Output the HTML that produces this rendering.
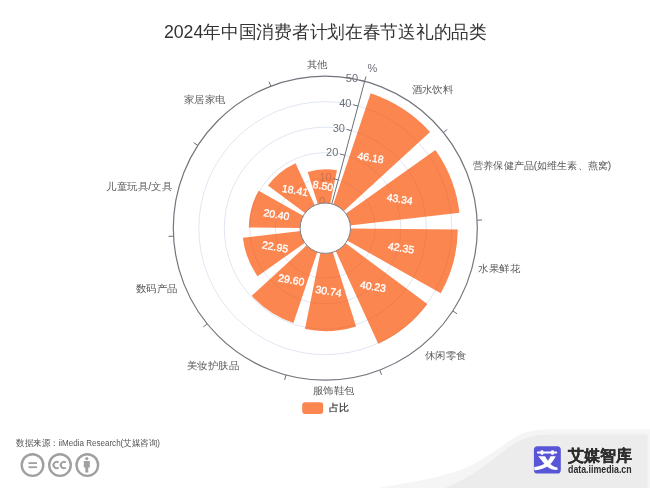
<!DOCTYPE html>
<html><head><meta charset="utf-8"><style>
html,body{margin:0;padding:0;background:#fff;}
body{width:650px;height:488px;overflow:hidden;position:relative;font-family:"Liberation Sans",sans-serif;}
svg{position:absolute;left:0;top:0;will-change:transform;}
text{font-family:"Liberation Sans",sans-serif;}
</style></head><body>
<svg width="650" height="488" viewBox="0 0 650 488">
<!-- footer panel -->
<path d="M378,488 C420,481 448,476 470,466 C494,454 506,441 520,434.5 C529,430.5 538,429.5 550,429.5 L650,429.5 L650,488 Z" fill="#f5f5f5"/>
<path d="M445,488 C465,480 481,469 496,457 C510,446 521,437.5 538,435.3 C545,434.5 550,434.5 556,434.5 L647.5,434.5 L647.5,488 Z" fill="#ececec"/>
<text x="325.3" y="38" text-anchor="middle" font-size="18" textLength="322.8" lengthAdjust="spacingAndGlyphs" fill="#333">2024年中国消费者计划在春节送礼的品类</text>
<circle cx="325.3" cy="228.2" r="50.00" fill="none" stroke="#E0E6F1" stroke-width="1"/>
<circle cx="325.3" cy="228.2" r="75.50" fill="none" stroke="#E0E6F1" stroke-width="1"/>
<circle cx="325.3" cy="228.2" r="101.00" fill="none" stroke="#E0E6F1" stroke-width="1"/>
<circle cx="325.3" cy="228.2" r="126.50" fill="none" stroke="#E0E6F1" stroke-width="1"/>
<circle cx="325.3" cy="228.2" r="152.0" fill="none" stroke="#74767e" stroke-width="1.2"/>
<line x1="364.64" y1="81.38" x2="365.93" y2="76.55" stroke="#6E7079" stroke-width="1"/>
<line x1="443.43" y1="132.54" x2="447.31" y2="129.40" stroke="#6E7079" stroke-width="1"/>
<line x1="477.09" y1="220.24" x2="482.08" y2="219.98" stroke="#6E7079" stroke-width="1"/>
<line x1="452.78" y1="310.99" x2="456.97" y2="313.71" stroke="#6E7079" stroke-width="1"/>
<line x1="379.77" y1="370.10" x2="381.56" y2="374.77" stroke="#6E7079" stroke-width="1"/>
<line x1="285.96" y1="375.02" x2="284.67" y2="379.85" stroke="#6E7079" stroke-width="1"/>
<line x1="207.17" y1="323.86" x2="203.29" y2="327.00" stroke="#6E7079" stroke-width="1"/>
<line x1="173.51" y1="236.16" x2="168.52" y2="236.42" stroke="#6E7079" stroke-width="1"/>
<line x1="197.82" y1="145.41" x2="193.63" y2="142.69" stroke="#6E7079" stroke-width="1"/>
<line x1="270.83" y1="86.30" x2="269.04" y2="81.63" stroke="#6E7079" stroke-width="1"/>
<text x="325.11" y="201.46" text-anchor="end" dominant-baseline="central" font-size="11" fill="#6E7079">0</text>
<text x="331.71" y="176.83" text-anchor="end" dominant-baseline="central" font-size="11" fill="#6E7079">10</text>
<text x="338.31" y="152.20" text-anchor="end" dominant-baseline="central" font-size="11" fill="#6E7079">20</text>
<text x="344.91" y="127.57" text-anchor="end" dominant-baseline="central" font-size="11" fill="#6E7079">30</text>
<text x="351.51" y="102.94" text-anchor="end" dominant-baseline="central" font-size="11" fill="#6E7079">40</text>
<text x="358.11" y="78.31" text-anchor="end" dominant-baseline="central" font-size="11" fill="#6E7079">50</text>
<g fill="#FC7131" fill-opacity="0.85"><path d="M370.67,93.37 A142.26,142.26 0 0 1 430.02,131.91 L343.33,211.62 A24.50,24.50 0 0 0 333.11,204.98 Z"/><path d="M435.36,149.99 A135.02,135.02 0 0 1 459.42,212.68 L349.64,225.38 A24.50,24.50 0 0 0 345.27,214.01 Z"/><path d="M457.79,229.59 A132.49,132.49 0 0 1 440.73,293.24 L346.64,240.23 A24.50,24.50 0 0 0 349.80,228.46 Z"/><path d="M427.33,303.97 A127.09,127.09 0 0 1 378.20,343.75 L335.50,250.48 A24.50,24.50 0 0 0 344.97,242.81 Z"/><path d="M356.07,326.38 A102.89,102.89 0 0 1 304.96,329.06 L320.46,252.22 A24.50,24.50 0 0 0 332.63,251.58 Z"/><path d="M293.41,322.96 A99.98,99.98 0 0 1 251.71,295.87 L307.27,244.78 A24.50,24.50 0 0 0 317.49,251.42 Z"/><path d="M257.63,276.29 A83.02,83.02 0 0 1 242.83,237.74 L300.96,231.02 A24.50,24.50 0 0 0 305.33,242.39 Z"/><path d="M248.78,227.40 A76.52,76.52 0 0 1 258.63,190.64 L303.96,216.17 A24.50,24.50 0 0 0 300.80,227.94 Z"/><path d="M267.94,185.60 A71.45,71.45 0 0 1 295.56,163.24 L315.10,205.92 A24.50,24.50 0 0 0 305.63,213.59 Z"/><path d="M307.66,171.90 A59.00,59.00 0 0 1 336.96,170.36 L330.14,204.18 A24.50,24.50 0 0 0 317.97,204.82 Z"/></g>
<clipPath id="bc"><path d="M370.67,93.37 A142.26,142.26 0 0 1 430.02,131.91 L343.33,211.62 A24.50,24.50 0 0 0 333.11,204.98 Z"/><path d="M435.36,149.99 A135.02,135.02 0 0 1 459.42,212.68 L349.64,225.38 A24.50,24.50 0 0 0 345.27,214.01 Z"/><path d="M457.79,229.59 A132.49,132.49 0 0 1 440.73,293.24 L346.64,240.23 A24.50,24.50 0 0 0 349.80,228.46 Z"/><path d="M427.33,303.97 A127.09,127.09 0 0 1 378.20,343.75 L335.50,250.48 A24.50,24.50 0 0 0 344.97,242.81 Z"/><path d="M356.07,326.38 A102.89,102.89 0 0 1 304.96,329.06 L320.46,252.22 A24.50,24.50 0 0 0 332.63,251.58 Z"/><path d="M293.41,322.96 A99.98,99.98 0 0 1 251.71,295.87 L307.27,244.78 A24.50,24.50 0 0 0 317.49,251.42 Z"/><path d="M257.63,276.29 A83.02,83.02 0 0 1 242.83,237.74 L300.96,231.02 A24.50,24.50 0 0 0 305.33,242.39 Z"/><path d="M248.78,227.40 A76.52,76.52 0 0 1 258.63,190.64 L303.96,216.17 A24.50,24.50 0 0 0 300.80,227.94 Z"/><path d="M267.94,185.60 A71.45,71.45 0 0 1 295.56,163.24 L315.10,205.92 A24.50,24.50 0 0 0 305.63,213.59 Z"/><path d="M307.66,171.90 A59.00,59.00 0 0 1 336.96,170.36 L330.14,204.18 A24.50,24.50 0 0 0 317.97,204.82 Z"/></clipPath>
<g clip-path="url(#bc)" fill="none" stroke="#7a5a4a" stroke-opacity="0.07" stroke-width="1">
<circle cx="325.3" cy="228.2" r="50.00"/>
<circle cx="325.3" cy="228.2" r="75.50"/>
<circle cx="325.3" cy="228.2" r="101.00"/>
<circle cx="325.3" cy="228.2" r="126.50"/>
</g>
<g opacity="0.2"><text x="325.11" y="201.46" text-anchor="end" dominant-baseline="central" font-size="11" fill="#6E7079">0</text><text x="331.71" y="176.83" text-anchor="end" dominant-baseline="central" font-size="11" fill="#6E7079">10</text></g>
<line x1="331.64" y1="204.53" x2="364.64" y2="81.38" stroke="#6E7079" stroke-width="1"/>
<line x1="331.64" y1="204.53" x2="326.81" y2="203.24" stroke="#6E7079" stroke-width="1"/>
<line x1="338.24" y1="179.90" x2="333.41" y2="178.61" stroke="#6E7079" stroke-width="1"/>
<line x1="344.84" y1="155.27" x2="340.01" y2="153.98" stroke="#6E7079" stroke-width="1"/>
<line x1="351.44" y1="130.64" x2="346.61" y2="129.35" stroke="#6E7079" stroke-width="1"/>
<line x1="358.04" y1="106.01" x2="353.21" y2="104.72" stroke="#6E7079" stroke-width="1"/>
<line x1="364.64" y1="81.38" x2="359.81" y2="80.09" stroke="#6E7079" stroke-width="1"/>
<circle cx="325.3" cy="228.2" r="25.2" fill="#fff" stroke="#7c7e86" stroke-width="1"/>
<text x="370.71" y="157.37" text-anchor="middle" dominant-baseline="central" font-size="10.5" fill="#fff" stroke="#fff" stroke-width="0.35" transform="rotate(9.5 370.71 157.37)">46.18</text>
<text x="399.76" y="198.72" text-anchor="middle" dominant-baseline="central" font-size="10.5" fill="#fff" stroke="#fff" stroke-width="0.35" transform="rotate(9.5 399.76 198.72)">43.34</text>
<text x="401.12" y="247.62" text-anchor="middle" dominant-baseline="central" font-size="10.5" fill="#fff" stroke="#fff" stroke-width="0.35" transform="rotate(9.5 401.12 247.62)">42.35</text>
<text x="373.00" y="286.20" text-anchor="middle" dominant-baseline="central" font-size="10.5" fill="#fff" stroke="#fff" stroke-width="0.35" transform="rotate(9.5 373.00 286.20)">40.23</text>
<text x="328.63" y="290.91" text-anchor="middle" dominant-baseline="central" font-size="10.5" fill="#fff" stroke="#fff" stroke-width="0.35" transform="rotate(9.5 328.63 290.91)">30.74</text>
<text x="291.40" y="279.50" text-anchor="middle" dominant-baseline="central" font-size="10.5" fill="#fff" stroke="#fff" stroke-width="0.35" transform="rotate(9.5 291.40 279.50)">29.60</text>
<text x="275.11" y="246.57" text-anchor="middle" dominant-baseline="central" font-size="10.5" fill="#fff" stroke="#fff" stroke-width="0.35" transform="rotate(9.5 275.11 246.57)">22.95</text>
<text x="276.51" y="214.23" text-anchor="middle" dominant-baseline="central" font-size="10.5" fill="#fff" stroke="#fff" stroke-width="0.35" transform="rotate(9.5 276.51 214.23)">20.40</text>
<text x="295.11" y="190.02" text-anchor="middle" dominant-baseline="central" font-size="10.5" fill="#fff" stroke="#fff" stroke-width="0.35" transform="rotate(9.5 295.11 190.02)">18.41</text>
<text x="323.11" y="185.61" text-anchor="middle" dominant-baseline="central" font-size="10.5" fill="#fff" stroke="#fff" stroke-width="0.35" transform="rotate(9.5 323.11 185.61)">8.50</text>
<text x="411.63" y="95.27" text-anchor="start" dominant-baseline="text-after-edge" textLength="41.6" lengthAdjust="spacingAndGlyphs" font-size="10.2" fill="#5a5a5a">酒水饮料</text>
<text x="473.27" y="171.40" text-anchor="start" dominant-baseline="text-after-edge" textLength="138.0" lengthAdjust="spacingAndGlyphs" font-size="10.2" fill="#5a5a5a">营养保健产品(如维生素、燕窝)</text>
<text x="478.40" y="268.22" text-anchor="start" dominant-baseline="central" textLength="41.6" lengthAdjust="spacingAndGlyphs" font-size="10.2" fill="#5a5a5a">水果鲜花</text>
<text x="425.05" y="351.58" text-anchor="start" dominant-baseline="hanging" textLength="41.6" lengthAdjust="spacingAndGlyphs" font-size="10.2" fill="#5a5a5a">休闲零食</text>
<text x="333.60" y="386.68" text-anchor="middle" dominant-baseline="hanging" textLength="41.6" lengthAdjust="spacingAndGlyphs" font-size="10.2" fill="#5a5a5a">服饰鞋包</text>
<text x="238.97" y="361.33" text-anchor="end" dominant-baseline="hanging" textLength="52.0" lengthAdjust="spacingAndGlyphs" font-size="10.2" fill="#5a5a5a">美妆护肤品</text>
<text x="177.33" y="285.20" text-anchor="end" dominant-baseline="hanging" textLength="41.6" lengthAdjust="spacingAndGlyphs" font-size="10.2" fill="#5a5a5a">数码产品</text>
<text x="172.20" y="186.18" text-anchor="end" dominant-baseline="central" textLength="65.8" lengthAdjust="spacingAndGlyphs" font-size="10.2" fill="#5a5a5a">儿童玩具/文具</text>
<text x="225.55" y="105.02" text-anchor="end" dominant-baseline="text-after-edge" textLength="41.6" lengthAdjust="spacingAndGlyphs" font-size="10.2" fill="#5a5a5a">家居家电</text>
<text x="317.00" y="69.92" text-anchor="middle" dominant-baseline="text-after-edge" textLength="20.8" lengthAdjust="spacingAndGlyphs" font-size="10.2" fill="#5a5a5a">其他</text>
<text x="372.3" y="68" text-anchor="middle" dominant-baseline="central" font-size="11" fill="#6E7079">%</text>
<!-- legend -->
<rect x="302.2" y="402.3" width="21" height="11.6" rx="3" fill="#FC8650"/>
<text x="328.6" y="407.7" dominant-baseline="central" font-size="10" fill="#333" stroke="#333" stroke-width="0.2">占比</text>
<!-- source -->
<text x="16" y="443.3" dominant-baseline="central" font-size="8.5" fill="#555" textLength="144" lengthAdjust="spacingAndGlyphs">数据来源：iiMedia Research(艾媒咨询)</text>
<g fill="none" stroke="#a0a0a0" stroke-width="2.4">
<circle cx="32.5" cy="465.1" r="10.8"/>
<circle cx="60" cy="465.1" r="10.8"/>
<circle cx="87.3" cy="465.1" r="10.8"/>
</g>
<g fill="#a0a0a0">
<rect x="28.5" y="462.2" width="8.5" height="1.8"/>
<rect x="28.5" y="466.3" width="8.5" height="1.8"/>
<circle cx="86.8" cy="458.6" r="1.6"/>
<rect x="83.8" y="461" width="6" height="6.5"/>
<rect x="85.3" y="467" width="3" height="5.5"/>
</g>
<g fill="none" stroke="#a0a0a0" stroke-width="2"><path d="M58.6,462.6 A3.1,3.1 0 1 0 58.6,467.4"/><path d="M65.8,462.6 A3.1,3.1 0 1 0 65.8,467.4"/></g>
<!-- logo -->
<rect x="533.9" y="446.3" width="26.9" height="27.3" rx="3.6" fill="#5856D6"/>
<g fill="#fff">
<rect x="536.9" y="451.5" width="20.3" height="2" rx="1"/>
<rect x="540.5" y="450.3" width="3" height="4.4" rx="1.2"/>
<rect x="551" y="450.3" width="3" height="4.4" rx="1.2"/>
<path d="M538.2,456.2 L545,456.2 C547,459.5 549,462.5 551.5,465 C553.5,466.8 555.5,467.3 557.5,467.5 L557.5,470 C553,470 549.5,469 547,466.5 C544,463.5 541,459.5 538.2,456.2 Z"/>
<path d="M550.5,456.2 L555.8,456.2 C553.5,461 550.5,464.5 546.5,467 C543,469 538.5,470 534.3,470.2 L534.3,467 C538.5,466.5 542,465.5 545,463.5 C547.5,461.5 549.5,459 550.5,456.2 Z"/>
</g>
<text x="567.5" y="455.4" dominant-baseline="central" font-size="15.5" font-weight="bold" fill="#2d2d2d" stroke="#2d2d2d" stroke-width="0.3">艾媒智库</text>
<text x="568" y="469" dominant-baseline="central" font-size="10" font-weight="bold" fill="#2d2d2d" textLength="63.6" lengthAdjust="spacingAndGlyphs">data.iimedia.cn</text>
</svg>
</body></html>
